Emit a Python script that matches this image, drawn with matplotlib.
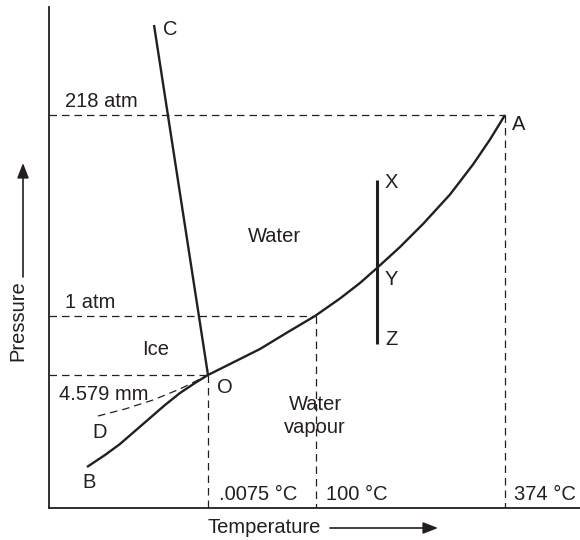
import matplotlib
matplotlib.use("Agg")
from matplotlib import pyplot as plt

plt.rcParams['font.family'] = ['Liberation Sans', 'DejaVu Sans']

# schematic phase diagram of water (x: temperature, y: pressure,
# both in picture units, y grows downward)
vapour_curve_x = [208, 235, 260, 288, 315, 340, 360, 377, 400, 423, 450, 473, 490, 505]
vapour_curve_y = [375, 361.5, 349, 332, 316, 298.5, 283, 268, 247, 224, 194.5, 164.5, 139.5, 115]
sublim_curve_x = [87, 105, 120, 135, 150, 165, 180, 195, 208]
sublim_curve_y = [467, 455, 444, 431, 418, 405, 393, 383, 375]
fusion_line_x = [154, 208]
fusion_line_y = [25, 375]
supercool_x = [98, 125, 153, 180, 208]
supercool_y = [416, 409, 400, 389, 375]
xyz_x = [377, 377]
xyz_y = [180, 344]

# reference levels: (x, y, label)
pressure_levels = [(505, 115, "218 atm"), (316, 316, "1 atm"), (208, 375, "4.579 mm")]
temp_levels = [(208, ".0075 °C"), (316, "100 °C"), (505, "374 °C")]

point_labels = {"A": (512, 130), "B": (82, 488), "C": (163, 35), "D": (92, 438),
                "O": (217, 393), "X": (385, 188), "Y": (385, 285), "Z": (385, 345)}
region_labels = {"Water": (274, 242), "Ice": (156, 355)}

ink = "#231f20"
fs = 14.5

fig = plt.figure(figsize=(5.8, 5.4), dpi=100)
ax = fig.add_axes([49 / 580, 32 / 540, 531 / 580, 501 / 540])
ax.set_xlim(49, 580)
ax.set_ylim(508, 7)
ax.spines["top"].set_visible(False)
ax.spines["right"].set_visible(False)
for s in ("left", "bottom"):
    ax.spines[s].set_color(ink)
    ax.spines[s].set_linewidth(1.3)
ax.set_xticks([])
ax.set_yticks([])

solid = dict(color=ink, linewidth=1.7, solid_capstyle="butt", solid_joinstyle="round")
dash = dict(color=ink, linewidth=0.9, dashes=(6, 4))

ax.plot(vapour_curve_x, vapour_curve_y, **solid)
ax.plot(sublim_curve_x, sublim_curve_y, **solid)
ax.plot(fusion_line_x, fusion_line_y, **solid)
ax.plot(xyz_x, xyz_y, color=ink, linewidth=2.2, solid_capstyle="butt")
ax.plot(supercool_x, supercool_y, **dash)

for x, y, lab in pressure_levels:
    ax.plot([49, x], [y, y], **dash)
    ax.plot([x, x], [y, 508], **dash)
    ax.text(65 if lab != "4.579 mm" else 59, y - 8 if lab != "4.579 mm" else 400, lab,
            fontsize=fs, color=ink, va="baseline", ha="left")

for x, lab in temp_levels:
    ax.text(x + (11 if x == 208 else 10 if x == 316 else 9), 500, lab,
            fontsize=fs, color=ink, va="baseline", ha="left")

for lab, (x, y) in point_labels.items():
    ax.text(x, y, lab, fontsize=fs, color=ink, va="baseline", ha="left")
for lab, (x, y) in region_labels.items():
    ax.text(x, y, lab, fontsize=fs, color=ink, va="baseline", ha="center")
ax.text(315, 410, "Water", fontsize=fs, color=ink, va="baseline", ha="center")
ax.text(315, 433, "vapour", fontsize=fs, color=ink, va="baseline", ha="center")

# axis titles with arrows
ax.text(207, 533, "Temperature", fontsize=fs, color=ink, va="baseline", ha="left",
        clip_on=False)
ax.annotate("", xy=(438, 528), xytext=(330, 528), annotation_clip=False,
            arrowprops=dict(arrowstyle="-|>,head_length=0.9,head_width=0.35",
                            color=ink, lw=1.2, shrinkA=0, shrinkB=0))
ax.text(18, 321, "Pressure", fontsize=fs, color=ink, rotation=90,
        va="center", ha="center", clip_on=False)
ax.annotate("", xy=(23, 163), xytext=(23, 277), annotation_clip=False,
            arrowprops=dict(arrowstyle="-|>,head_length=0.9,head_width=0.35",
                            color=ink, lw=1.2, shrinkA=0, shrinkB=0))

plt.savefig("out.png", dpi=100)
